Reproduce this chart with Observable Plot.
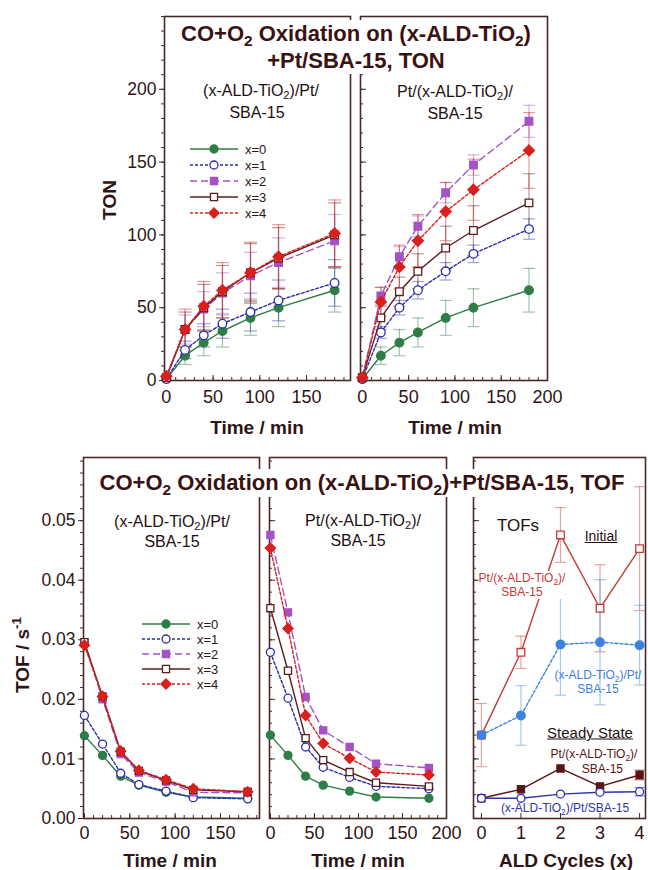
<!DOCTYPE html>
<html><head><meta charset="utf-8">
<script src="https://cdn.jsdelivr.net/npm/d3@7"></script>
<script src="https://cdn.jsdelivr.net/npm/@observablehq/plot@0.6"></script>
<style>
html,body{margin:0;padding:0;background:#fff;}
#root{position:relative;width:648px;height:870px;overflow:hidden;font-family:"Liberation Sans",Arial,Helvetica,sans-serif;color:#2e1414;}
#root svg{position:absolute;overflow:visible;}
.t{position:absolute;white-space:nowrap;transform:translate(-50%,-50%);line-height:1;}
.b{font-weight:bold;}
.rot{transform:translate(-50%,-50%) rotate(-90deg);}
sub{font-size:0.7em;vertical-align:-0.3em;line-height:0;}
sup{font-size:0.7em;vertical-align:0.55em;line-height:0;}
.title{position:absolute;background:#fff;text-align:center;font-weight:bold;font-size:22px;color:#3a1212;white-space:nowrap;}
</style></head>
<body><div id="root"></div>
<script>
// ================= DATA =================
const times = [0, 20, 40, 60, 90, 120, 180];
const cycles = [0, 1, 2, 3, 4];
const seriesNames = ["x=0", "x=1", "x=2", "x=3", "x=4"];

// TON, (x-ALD-TiO2)/Pt/SBA-15  (one row per x)
const tonTiO2OnPt = [
  [1, 17, 26, 34, 43, 50, 62],
  [1, 21, 31, 39, 47, 55, 67],
  [2, 35, 49, 60, 72, 81, 96],
  [2, 35, 50, 61, 74, 84, 100],
  [3, 35, 51, 62, 74, 85, 101]
];
const tonTiO2OnPtErr = [
  [0, 6, 9, 11, 12, 13, 15],
  [0, 6, 8, 10, 13, 14, 16],
  [0, 10, 12, 14, 16, 17, 18],
  [0, 12, 16, 18, 20, 21, 22],
  [0, 14, 17, 19, 21, 22, 23]
];
// TON, Pt/(x-ALD-TiO2)/SBA-15
const tonPtOnTiO2 = [
  [1, 17, 26, 33, 43, 50, 62],
  [1, 33, 50, 62, 75, 87, 104],
  [2, 58, 85, 106, 129, 148, 178],
  [2, 43, 61, 75, 91, 103, 122],
  [2, 54, 78, 96, 116, 131, 158]
];
const tonPtOnTiO2Err = [
  [0, 6, 9, 10, 12, 13, 15],
  [0, 4, 5, 6, 6, 6, 7],
  [0, 6, 7, 7, 7, 7, 11],
  [0, 8, 10, 12, 15, 17, 20],
  [0, 10, 15, 18, 20, 21, 26]
];
// TOF, (x-ALD-TiO2)/Pt/SBA-15
const tofTiO2OnPt = [
  [0.0139, 0.0106, 0.0071, 0.0056, 0.0044, 0.0036, 0.0034],
  [0.0173, 0.0125, 0.0076, 0.0057, 0.0046, 0.0035, 0.0033],
  [0.0296, 0.0200, 0.0108, 0.0077, 0.0062, 0.0044, 0.0043],
  [0.0296, 0.0205, 0.0112, 0.0080, 0.0064, 0.0048, 0.0045],
  [0.0291, 0.0205, 0.0113, 0.0081, 0.0065, 0.0050, 0.0045]
];
// TOF, Pt/(x-ALD-TiO2)/SBA-15
const tofPtOnTiO2 = [
  [0.0140, 0.0106, 0.0071, 0.0056, 0.0046, 0.0036, 0.0034],
  [0.0279, 0.0202, 0.0120, 0.0086, 0.0069, 0.0054, 0.0050],
  [0.0476, 0.0346, 0.0204, 0.0148, 0.0120, 0.0092, 0.0085],
  [0.0353, 0.0248, 0.0135, 0.0098, 0.0078, 0.0060, 0.0054],
  [0.0454, 0.0319, 0.0173, 0.0126, 0.0101, 0.0078, 0.0073]
];
// TOFs vs ALD cycles
const initialPtOnTiO2 = [0.0140, 0.0279, 0.0476, 0.0353, 0.0453];
const initialPtOnTiO2Err = [0.0053, 0.0027, 0.0046, 0.0073, 0.0104];
const initialTiO2OnPt = [0.0140, 0.0173, 0.0292, 0.0296, 0.0291];
const initialTiO2OnPtErr = [0, 0.0050, 0.0085, 0.0105, 0.0067];
const steadyPtOnTiO2 = [0.0034, 0.0049, 0.0084, 0.0054, 0.0073];
const steadyPtOnTiO2Err = [0, 0, 0, 0, 0.0008];
const steadyTiO2OnPt = [0.0034, 0.0034, 0.0041, 0.0044, 0.0045];
const steadyTiO2OnPtErr = [0, 0, 0, 0, 0.0007];

// tick values
const tonTicks = [0, 50, 100, 150, 200];
const tonMinor = d3.range(0, 251, 10);
const tofTicks = [0, 0.01, 0.02, 0.03, 0.04, 0.05];
const tofMinor = d3.range(0, 0.0607, 0.002);
const timeTicksA = [0, 50, 100, 150];
const timeTicksB = [0, 50, 100, 150, 200];
const timeMinor = d3.range(0, 201, 10);
const cycleTicks = [0, 1, 2, 3, 4];

// ================= STYLE =================
const FONT = '"Liberation Sans", Arial, Helvetica, sans-serif';
const AX = "#4a2828";
const seriesStyle = [
  {color: "#2e7d46", dash: null, symbol: "circle", fill: true},
  {color: "#2a2ea8", dash: "3,2", symbol: "circle", fill: false},
  {color: "#a452c6", dash: "7,4", symbol: "square", fill: true},
  {color: "#5c1c1c", dash: null, symbol: "square", fill: false},
  {color: "#d8201e", dash: "3,2", symbol: "diamond2", fill: true}
];
const capSym = {draw(ctx, size) { const w = Math.sqrt(size / Math.PI); ctx.moveTo(-w, 0); ctx.lineTo(w, 0); }};
const root = document.getElementById("root");

function seriesMarks(xs, ys, errs, st, o = {}) {
  const r = o.r ?? 4.3, cap = o.cap ?? 6, eo = o.errOpacity ?? 0.45;
  const data = xs.map((x, i) => ({x, y: ys[i], e: errs ? errs[i] : 0}));
  const ec = st.errColor || st.color;
  const err = [], main = [];
  if (errs) {
    const ed = data.filter(d => d.e > 0);
    err.push(Plot.ruleX(ed, {x: "x", y1: d => d.y - d.e, y2: d => d.y + d.e, stroke: ec, strokeOpacity: eo, strokeWidth: 1.2}));
    err.push(Plot.dot(ed, {x: "x", y: d => d.y - d.e, symbol: capSym, r: cap, stroke: ec, strokeOpacity: eo, fill: "none", strokeWidth: 1.2}));
    err.push(Plot.dot(ed, {x: "x", y: d => d.y + d.e, symbol: capSym, r: cap, stroke: ec, strokeOpacity: eo, fill: "none", strokeWidth: 1.2}));
  }
  main.push(Plot.line(data, {x: "x", y: "y", stroke: st.color, strokeWidth: o.sw ?? 1.4, strokeDasharray: st.dash || undefined}));
  main.push(Plot.dot(data, {x: "x", y: "y", symbol: st.symbol, r: st.symbol === "diamond2" ? r * 1.15 : r,
    fill: st.fill ? st.color : "white", stroke: st.color, strokeWidth: 1.3}));
  return {err, main};
}

function panel(cfg) {
  const ML = 60, MR = 8, MT = 8, MB = 40;
  const inner = cfg.inner;
  const axes = [
    Plot.axisY(cfg.yMinor, {tickSize: inner ? -3 : 3, tickFormat: () => "", stroke: AX}),
    Plot.axisY(cfg.yMajor, {tickSize: inner ? -6 : 5, tickPadding: 3, stroke: AX, fill: "#2e1414",
      tickFormat: cfg.yLabels ? cfg.yFormat : () => "", fontSize: 17.5}),
    Plot.axisX(cfg.xMinor || [], {tickSize: -3, tickFormat: () => "", stroke: AX}),
    Plot.axisX(cfg.xMajor, {tickSize: -5, tickFormat: () => "", stroke: AX}),
    Plot.axisX(cfg.xMajor, {tickSize: 0, tickPadding: cfg.xPad ?? 9, fill: "#2e1414", tickFormat: d3.format("d"), fontSize: 18})
  ];
  const all = [Plot.frame({stroke: AX, strokeWidth: 1.6}), ...axes, ...cfg.marks];
  const svg = Plot.plot({
    width: cfg.width + ML + MR, height: cfg.height + MT + MB,
    marginLeft: ML, marginRight: MR, marginTop: MT, marginBottom: MB,
    x: {domain: cfg.xDomain, label: null},
    y: {domain: cfg.yDomain, label: null},
    style: {fontFamily: FONT, fontSize: "17.5px", color: AX, background: "transparent", overflow: "visible"},
    marks: all
  });
  svg.style.left = (cfg.left - ML) + "px";
  svg.style.top = (cfg.top - MT) + "px";
  root.appendChild(svg);
}

function groupMarks(xs, table, errTable, o) {
  const errs = [], mains = [];
  table.forEach((ys, i) => {
    const m = seriesMarks(xs, ys, errTable ? errTable[i] : null, seriesStyle[i], o);
    errs.push(...m.err); mains.push(...m.main);
  });
  return [...errs, ...mains];
}

function legend(left, top, spacing, lineLen) {
  const svg = d3.create("svg").attr("width", 110).attr("height", spacing * 5 + 10)
    .style("left", left + "px").style("top", (top - 8) + "px");
  const symMap = {circle: d3.symbolCircle, square: d3.symbolSquare, diamond2: d3.symbolDiamond2 || d3.symbolDiamond};
  seriesNames.forEach((name, i) => {
    const st = seriesStyle[i]; const y = 8 + i * spacing;
    svg.append("line").attr("x1", 0).attr("x2", lineLen).attr("y1", y).attr("y2", y)
      .attr("stroke", st.color).attr("stroke-width", 1.4).attr("stroke-dasharray", st.dash);
    const rr = st.symbol === "diamond2" ? 4.6 : 4;
    svg.append("path").attr("d", d3.symbol(symMap[st.symbol], Math.PI * rr * rr)())
      .attr("transform", `translate(${lineLen / 2},${y})`)
      .attr("fill", st.fill ? st.color : "white").attr("stroke", st.color).attr("stroke-width", 1.3);
    svg.append("text").attr("x", lineLen + 7).attr("y", y).attr("dy", "0.36em")
      .attr("font-family", FONT).attr("font-size", 13).attr("fill", "#2e1414").text(name);
  });
  root.appendChild(svg.node());
}

function label(html, x, y, cls = "", style = "") {
  const d = document.createElement("div");
  d.className = "t " + cls; d.innerHTML = html;
  d.style.cssText += `left:${x}px;top:${y}px;${style}`;
  root.appendChild(d);
  return d;
}

// ================= TOP ROW: TON =================
panel({left: 164, top: 16, width: 186, height: 364, xDomain: [-2, 197], yDomain: [0, 250],
  xMajor: timeTicksA, xMinor: timeMinor.filter(v => v <= 190), yMajor: tonTicks, yMinor: tonMinor,
  yLabels: true, yFormat: d3.format("d"), xPad: 10,
  marks: groupMarks(times, tonTiO2OnPt, tonTiO2OnPtErr, {cap: 6.5})});
panel({left: 360, top: 16, width: 187, height: 364, xDomain: [-2, 200], yDomain: [0, 250],
  xMajor: timeTicksB, xMinor: timeMinor, yMajor: tonTicks, yMinor: tonMinor, inner: true, xPad: 10,
  marks: groupMarks(times, tonPtOnTiO2, tonPtOnTiO2Err, {cap: 6})});

// ================= BOTTOM ROW: TOF =================
panel({left: 83, top: 457, width: 176, height: 361, xDomain: [-1, 193], yDomain: [0, 0.0606],
  xMajor: timeTicksA, xMinor: timeMinor.filter(v => v <= 190), yMajor: tofTicks, yMinor: tofMinor,
  yLabels: true, yFormat: d3.format(".2f"), xPad: 8,
  marks: groupMarks(times, tofTiO2OnPt, null, {r: 4})});
panel({left: 269, top: 457, width: 177, height: 361, xDomain: [-1, 200], yDomain: [0, 0.0606],
  xMajor: timeTicksB, xMinor: timeMinor, yMajor: tofTicks, yMinor: tofMinor, inner: true, xPad: 8,
  marks: groupMarks(times, tofPtOnTiO2, null, {r: 4})});

const cyc = [
  seriesMarks(cycles, initialPtOnTiO2, initialPtOnTiO2Err,
    {color: "#c63a36", errColor: "#d26a66", dash: null, symbol: "square", fill: false}, {r: 4.3, cap: 5.5, errOpacity: 0.6}),
  seriesMarks(cycles, initialTiO2OnPt, initialTiO2OnPtErr,
    {color: "#3b82e0", errColor: "#6aa4e6", dash: "3,2", symbol: "circle", fill: true}, {r: 4.3, cap: 5.5, errOpacity: 0.6}),
  seriesMarks(cycles, steadyPtOnTiO2, steadyPtOnTiO2Err,
    {color: "#5a1414", dash: null, symbol: "square", fill: true}, {r: 4, cap: 5, errOpacity: 0.6}),
  seriesMarks(cycles, steadyTiO2OnPt, steadyTiO2OnPtErr,
    {color: "#2a34b0", dash: null, symbol: "circle", fill: false}, {r: 4, cap: 5, errOpacity: 0.6})
];
panel({left: 473, top: 457, width: 172, height: 361, xDomain: [-0.2, 4.15], yDomain: [0, 0.0606],
  xMajor: cycleTicks, xMinor: [], yMajor: tofTicks, yMinor: tofMinor, inner: true, xPad: 8,
  marks: [...cyc.flatMap(c => c.err), ...cyc.flatMap(c => c.main)]});

// ================= LEGENDS =================
legend(190, 149, 16, 48);
legend(142, 624, 15, 48);

// ================= TITLES & LABELS =================
const t1 = document.createElement("div");
t1.className = "title";
t1.style.cssText += "left:168px;top:20px;width:376px;height:54px;line-height:27px;";
t1.innerHTML = "CO+O<sub>2</sub> Oxidation on (x-ALD-TiO<sub>2</sub>)<br>+Pt/SBA-15, TON";
root.appendChild(t1);
const t2 = document.createElement("div");
t2.className = "title";
t2.style.cssText += "left:92px;top:469px;width:540px;height:28px;line-height:28px;";
t2.innerHTML = "CO+O<sub>2</sub> Oxidation on (x-ALD-TiO<sub>2</sub>)+Pt/SBA-15, TOF";
root.appendChild(t2);

const sub16 = "font-size:16px;color:#1e1010;";
label("(x-ALD-TiO<sub>2</sub>)/Pt/", 261, 91, "", sub16);
label("SBA-15", 257, 113, "", sub16);
label("Pt/(x-ALD-TiO<sub>2</sub>)/", 455, 92, "", sub16);
label("SBA-15", 455, 114, "", sub16);
label("(x-ALD-TiO<sub>2</sub>)/Pt/", 172, 522, "", sub16);
label("SBA-15", 172, 542, "", sub16);
label("Pt/(x-ALD-TiO<sub>2</sub>)/", 363, 521, "", sub16);
label("SBA-15", 358, 541, "", sub16);

const ax = "font-size:19px;color:#2e1414;";
label("TON", 109, 200, "b rot", ax);
label("TOF / s<sup>-1</sup>", 22, 655, "b rot", ax);
label("Time / min", 257, 427, "b", ax);
label("Time / min", 455, 427, "b", ax);
label("Time / min", 170, 860, "b", ax);
label("Time / min", 358, 860, "b", ax);
label("ALD Cycles (x)", 566, 860, "b", ax);

// annotations, TOF vs cycles
label("TOFs", 518, 525, "", "font-size:17px;color:#1e1010;");
label("Initial", 601, 536, "", "font-size:14px;color:#1e1010;text-decoration:underline;");
label("Pt/(x-ALD-TiO<sub>2</sub>)/<br>SBA-15", 522, 585, "", "font-size:12px;line-height:14px;color:#c63a36;text-align:center;background:#fff;");
label("(x-ALD-TiO<sub>2</sub>)/Pt/<br>SBA-15", 598, 682, "", "font-size:12px;line-height:14px;color:#3b82e0;text-align:center;");
label("Steady State", 590, 732, "", "font-size:15px;color:#1e1010;text-decoration:underline;");
label("Pt/(x-ALD-TiO<sub>2</sub>)/<br>&nbsp;&nbsp;&nbsp;&nbsp;&nbsp;SBA-15", 594, 762, "", "font-size:12px;line-height:15px;color:#5a1414;text-align:center;");
label("(x-ALD-TiO<sub>2</sub>)/Pt/SBA-15", 565, 808, "", "font-size:12px;color:#2a34b0;");
</script>
</body></html>
